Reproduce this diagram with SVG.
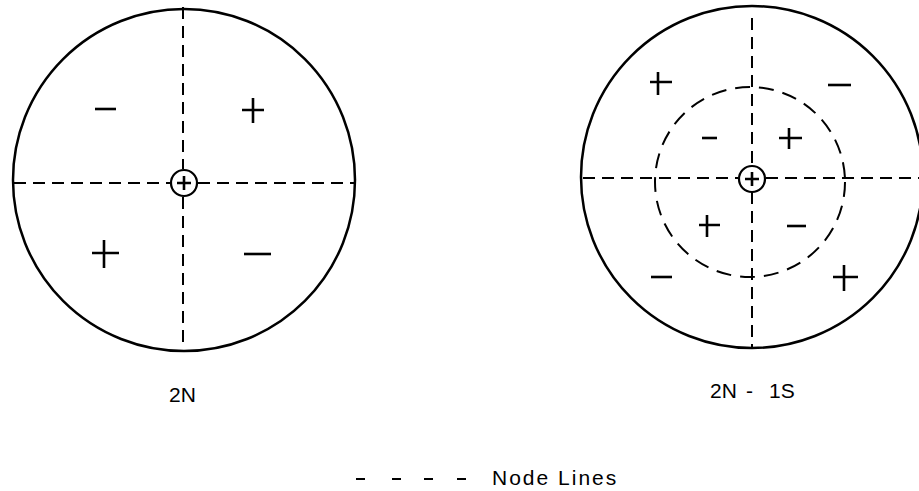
<svg xmlns="http://www.w3.org/2000/svg" width="919" height="491" viewBox="0 0 919 491">
<style>
.outer{fill:none;stroke:#000;stroke-width:2.5}
.node{fill:none;stroke:#000;stroke-width:2;stroke-dasharray:12 7}
.ring{fill:none;stroke:#000;stroke-width:2;stroke-dasharray:15 9}
.sign{stroke:#000;stroke-width:2.6;stroke-linecap:butt;fill:none}
.ctr{fill:#fff;stroke:#000;stroke-width:2.2}
.lbl{font-family:"Liberation Sans",Arial,sans-serif;font-size:21px;fill:#000}
</style>
<rect width="919" height="491" fill="#fff"/>
<g id="mode-2N">
<circle class="outer" cx="184" cy="180" r="171"/>
<g id="node-lines-2N">
<line class="node" x1="14" y1="183" x2="170" y2="183"/>
<line class="node" x1="198" y1="183" x2="354" y2="183"/>
<line class="node" x1="183" y1="7" x2="183" y2="169"/>
<line class="node" x1="183" y1="197" x2="183" y2="347"/>
</g>
<circle class="ctr" cx="184" cy="183" r="13"/>
<path class="sign" d="M177 183H191M184 176V190"/>
<path class="sign" d="M95 109H116"/>
<path class="sign" d="M242 110H264M253 98V123"/>
<path class="sign" d="M92 253H119M104 240V268"/>
<path class="sign" d="M244 254H271"/>
</g>
<g id="mode-2N-1S">
<circle class="outer" cx="752" cy="177" r="171"/>
<g id="node-lines-2N-1S">
<line class="node" x1="583" y1="178" x2="738" y2="178"/>
<line class="node" x1="766" y1="178" x2="919" y2="178"/>
<line class="node" x1="752" y1="18" x2="752" y2="164"/>
<line class="node" x1="752" y1="192" x2="752" y2="348"/>
<circle class="ring" cx="750" cy="182" r="95"/>
</g>
<circle class="ctr" cx="752" cy="179" r="13"/>
<path class="sign" d="M745 179H759M752 172V186"/>
<path class="sign" d="M650 82H672M658 72V95"/>
<path class="sign" d="M828 85H851"/>
<path class="sign" d="M702 138H717"/>
<path class="sign" d="M779 138H802M789 128V149"/>
<path class="sign" d="M699 225H720M707 215V237"/>
<path class="sign" d="M787 226H806"/>
<path class="sign" d="M651 277H672"/>
<path class="sign" d="M833 277H858M844 265V291"/>
</g>
<g id="labels">
<text class="lbl" x="169" y="402">2N</text>
<text class="lbl" y="398"><tspan x="710">2N</tspan><tspan x="746">-</tspan><tspan x="769">1S</tspan></text>
</g>
<g id="legend">
<path class="sign" style="stroke-width:2" d="M356 479H365M392 479H401M424 479H433M457 479H466"/>
<text class="lbl" x="492" y="485" style="letter-spacing:2px">Node Lines</text>
</g>
</svg>
